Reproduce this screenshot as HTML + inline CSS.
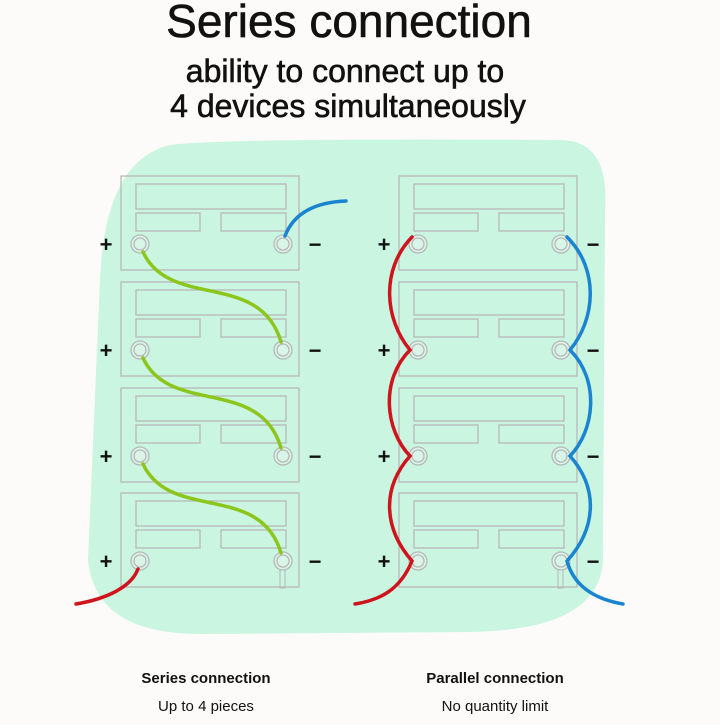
<!DOCTYPE html>
<html><head><style>
body{margin:0;width:720px;height:720px;background:#fcfbfa;font-family:"Liberation Sans",sans-serif;overflow:hidden}
</style></head><body>
<svg width="720" height="720" viewBox="0 0 720 720">
<rect width="720" height="720" fill="#fcfbfa"/>
<path d="M170 145 Q220 138 560 140 Q610 140 605 210 L603 560 Q600 630 470 632 L200 634 Q95 634 88 560 L100 280 Q105 160 170 145Z" fill="#c9f5e1"/>
<g font-family="Liberation Sans,sans-serif" text-anchor="middle" fill="#111" stroke="#111" stroke-width="0.6">
<text x="349" y="37" font-size="46">Series connection</text>
<text x="345" y="82" font-size="32">ability to connect up to</text>
<text x="348" y="117" font-size="32">4 devices simultaneously</text>
</g>
<g font-family="Liberation Sans,sans-serif" text-anchor="middle" fill="#111">
<text x="206" y="683" font-size="15" font-weight="bold">Series connection</text>
<text x="206" y="711" font-size="15">Up to 4 pieces</text>
<text x="495" y="683" font-size="15" font-weight="bold">Parallel connection</text>
<text x="495" y="711" font-size="15">No quantity limit</text>
</g>
<defs>
<g id="bat" fill="none" stroke="#b8b8b8" stroke-width="1.3">
<rect x="0" y="0" width="178" height="94"/>
<rect x="15" y="8" width="150" height="25"/>
<rect x="15" y="37" width="64" height="18"/>
<rect x="100" y="37" width="65" height="18"/>
<circle cx="19" cy="68" r="9" fill="#d8f5e8"/><circle cx="19" cy="68" r="6"/>
<circle cx="162" cy="68" r="9" fill="#d8f5e8"/><circle cx="162" cy="68" r="6"/>
</g>
</defs>
<g>
<use href="#bat" x="121" y="176"/><use href="#bat" x="121" y="282"/><use href="#bat" x="121" y="388"/><use href="#bat" x="121" y="493"/>
<use href="#bat" x="399" y="176"/><use href="#bat" x="399" y="282"/><use href="#bat" x="399" y="388"/><use href="#bat" x="399" y="493"/>
<rect x="280" y="570" width="5" height="18" fill="none" stroke="#b8b8b8"/>
<rect x="558" y="570" width="5" height="18" fill="none" stroke="#b8b8b8"/>
</g>
<g font-family="Liberation Sans,sans-serif" font-size="22" font-weight="bold" fill="#111" text-anchor="middle">
<text x="106" y="252">+</text><text x="106" y="358">+</text><text x="106" y="464">+</text><text x="106" y="569">+</text>
<text x="315" y="252">−</text><text x="315" y="358">−</text><text x="315" y="464">−</text><text x="315" y="569">−</text>
<text x="384" y="252">+</text><text x="384" y="358">+</text><text x="384" y="464">+</text><text x="384" y="569">+</text>
<text x="593" y="252">−</text><text x="593" y="358">−</text><text x="593" y="464">−</text><text x="593" y="569">−</text>
</g>
<g fill="none" stroke-width="3.5" stroke-linecap="round">
<path d="M143 252 C170 310 260 270 281 342" stroke="#8cc51c"/>
<path d="M143 358 C170 416 260 376 281 448" stroke="#8cc51c"/>
<path d="M143 464 C170 522 260 482 281 553" stroke="#8cc51c"/>
<path d="M285 236 C295 210 320 202 346 201" stroke="#1a84d0"/>
<path d="M138 569 C130 590 100 600 76 604" stroke="#d0141d"/>
<path d="M412 237 C380 270 385 320 410 350 C380 380 385 430 410 456 C380 490 385 530 412 561 C400 590 380 600 355 604" stroke="#d0141d"/>
<path d="M567 237 C600 270 595 320 570 350 C600 380 595 430 570 456 C600 490 595 530 567 561 C575 590 600 600 623 604" stroke="#1a84d0"/>
</g>
</svg>
</body></html>
